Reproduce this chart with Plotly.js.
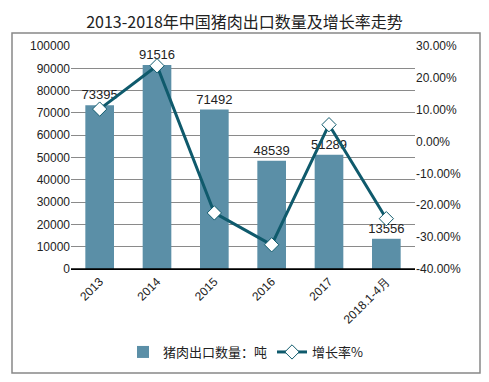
<!DOCTYPE html>
<html><head><meta charset="utf-8">
<script src="https://cdn.plot.ly/plotly-3.0.1.min.js"></script>
<style>body{margin:0;background:#fff}#c{width:489px;height:382px}</style>
</head><body><div id="c"></div>
<script>
const categories = ['2013','2014','2015','2016','2017','2018.1-4月'];
const exportTons = [73395, 91516, 71492, 48539, 51289, 13556];
const growthPct = [10.2, 23.8, -22.4, -32.4, 5.3, -24.2];
const leftTicks = [0,10000,20000,30000,40000,50000,60000,70000,80000,90000,100000];
const rightTicks = [-40,-30,-20,-10,0,10,20,30];

const W=344, H=223;
const px = x => (x-71)/W, py = y => (269-y)/H;

const traces = [
  {type:'bar', x:categories, y:exportTons, name:'猪肉出口数量：吨',
   marker:{color:'#5b8fa7'}, width:0.5,
   text:exportTons.map(String), textposition:'outside', cliponaxis:false, constraintext:'none',
   textfont:{family:'Arial, Liberation Sans', size:13, color:'#222'}},
  {type:'scatter', mode:'lines+markers', x:categories, y:growthPct, yaxis:'y2', name:'增长率%',
   line:{color:'#0f5a6c', width:3}, cliponaxis:false,
   marker:{symbol:'diamond', size:11, color:'#fff', line:{color:'#0f5a6c', width:1}}}
];

const layout = {
  width:489, height:382, margin:{l:71, r:74, t:46, b:113},
  paper_bgcolor:'#fff', plot_bgcolor:'#fff', showlegend:true, bargap:0.5,
  title:{text:'2013-2018年中国猪肉出口数量及增长率走势', x:0.5, xref:'container', xanchor:'center', y:0.955, yref:'container',
    font:{family:'Noto Sans CJK SC', size:16, color:'#222'}},
  font:{family:'Arial, Liberation Sans', size:12, color:'#222'},
  xaxis:{type:'category', tickangle:-45, showgrid:false, showline:true, linecolor:'#000', linewidth:1,
    ticks:'', tickfont:{size:12, color:'#222'}, fixedrange:true},
  yaxis:{range:[0,100000], tickvals:leftTicks, ticktext:leftTicks.map(String), showgrid:true, gridcolor:'#8a8a8a', gridwidth:1,
    zeroline:false, ticks:'', ticklen:0, tickfont:{size:12, color:'#222'}, fixedrange:true},
  yaxis2:{overlaying:'y', side:'right', range:[-40,30], tickvals:rightTicks, ticktext:rightTicks.map(v=>v.toFixed(2)+'%'),
    showgrid:false, zeroline:false, ticks:'', tickfont:{size:12, color:'#222'}, fixedrange:true},
  legend:{orientation:'h', x:px(246), xanchor:'center', y:py(352), yanchor:'middle',
    font:{family:'Noto Sans CJK SC', size:13, color:'#222'}, itemwidth:30, tracegroupgap:0},
  shapes:[
    {type:'rect', xref:'paper', yref:'paper', x0:px(12), x1:px(480), y0:py(373), y1:py(33),
     line:{color:'#888', width:1.5}, fillcolor:'rgba(0,0,0,0)', layer:'below'},
    {type:'line', xref:'paper', yref:'paper', x0:0, x1:1, y0:0, y1:0, line:{color:'#000', width:1.5}}
  ]
};
Plotly.newPlot('c', traces, layout, {displayModeBar:false, staticPlot:true});
</script></body></html>
